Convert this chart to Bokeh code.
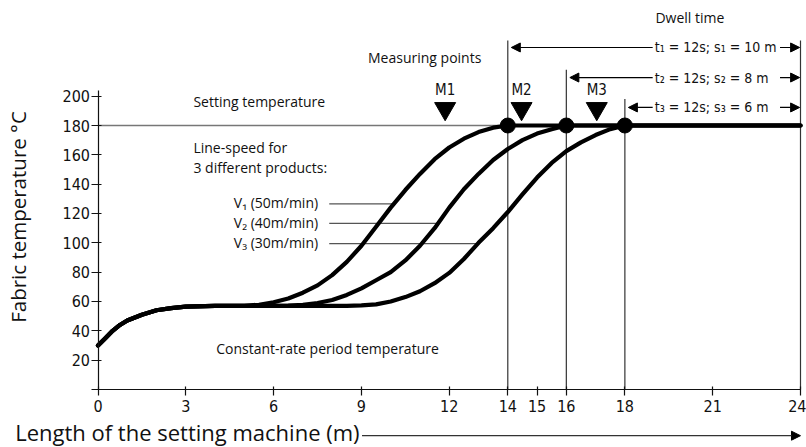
from bokeh.plotting import figure
from bokeh.models import FixedTicker, Arrow, NormalHead, Range1d
from bokeh.embed import file_html
from bokeh.resources import INLINE
from bokeh.core.properties import value

# ---------------- data ----------------
x_ticks = [0, 3, 6, 9, 12, 14, 15, 16, 18, 21, 24]
y_ticks = [0, 20, 40, 60, 80, 100, 120, 140, 160, 180, 200]

# warm-up to the constant-rate period temperature (common to all products)
warm_x = [0, 0.25, 0.5, 0.75, 1.0, 1.5, 2.0, 2.5, 3.0, 4.0, 5.0]
warm_y = [30, 35, 40, 44, 47, 51, 54, 55.5, 56.5, 57, 57]

# heating curves to setting temperature
v1_x = [5.5, 6.0, 6.5, 7.0, 7.5, 8.0, 8.5, 9.0, 9.5, 10.0, 10.5, 11.0, 11.5, 12.0, 12.5, 13.0, 13.5, 14.0, 24.0]
v1_y = [57.8, 59.5, 62, 66, 71, 78, 87, 98, 111, 124, 136, 147, 157, 165, 171, 175.5, 178.5, 180, 180]

v2_x = [6.0, 6.5, 7.0, 7.5, 8.0, 8.5, 9.0, 9.5, 10.0, 10.5, 11.0, 11.5, 12.0, 12.5, 13.0, 13.5, 14.0, 14.5, 15.0, 15.5, 16.0, 24.0]
v2_y = [57, 57.2, 57.8, 59, 61, 64.5, 69, 74.5, 80, 88, 98, 110, 124, 136.5, 147, 156.5, 164, 170, 174.5, 177.5, 180, 180]

v3_x = [8.0, 8.5, 9.0, 9.5, 10.0, 10.5, 11.0, 11.5, 12.0, 12.5, 13.0, 13.5, 14.0, 14.5, 15.0, 15.5, 16.0, 16.5, 17.0, 17.5, 18.0, 24.0]
v3_y = [57, 57, 57.3, 58, 60, 63, 67, 72.5, 79.5, 89, 100, 110, 121, 133, 144.5, 154.5, 162.5, 168.5, 173.5, 177.5, 180, 180]

setting_temp = 180
dwell_start = [14, 16, 18]          # m, where each product reaches setting temp
machine_end = 24
measure_x = [11.86, 14.47, 17.04]
measure_names = ["M1", "M2", "M3"]
speed_labels = ["V\u2081 (50m/min)", "V\u2082 (40m/min)", "V\u2083 (30m/min)"]
dwell_labels = ["t\u2081 = 12s;  s\u2081 = 10 m",
                "t\u2082 = 12s;  s\u2082 =   8 m",
                "t\u2083 = 12s;  s\u2083 =   6 m"]

# ---------------- figure ----------------
W, H = 806, 447
p = figure(width=W, height=H, output_backend="svg", toolbar_location=None,
           x_range=Range1d(-3.331, 24.205), y_range=Range1d(-39.55, 265.23),
           min_border=0, outline_line_color=None)
p.grid.visible = False
p.background_fill_color = "white"

TICKFONT = "'DejaVu Sans Condensed', 'Liberation Sans Narrow', sans-serif"
ANN = value("Open Sans")
NARROW = value(TICKFONT)

for ax in (p.xaxis[0], p.yaxis[0]):
    ax.fixed_location = 0
    ax.axis_line_color = "#111111"
    ax.axis_line_width = 1.2
    ax.major_tick_line_color = "#111111"
    ax.major_tick_line_width = 1.2
    ax.minor_tick_line_color = None
    ax.major_label_text_font = TICKFONT
    ax.major_label_text_font_size = "16px"
    ax.major_label_text_color = "#111111"

p.xaxis.ticker = FixedTicker(ticks=x_ticks)
p.xaxis.bounds = (0, 24)
p.xaxis.major_tick_out = 6
p.xaxis.major_tick_in = 3
p.xaxis.major_label_standoff = 5

p.yaxis.ticker = FixedTicker(ticks=y_ticks)
p.yaxis.bounds = (0, 204)
p.yaxis.major_tick_out = 7
p.yaxis.major_tick_in = 3
p.yaxis.major_label_standoff = 1
p.yaxis.major_label_overrides = {0: ""}

# setting temperature reference line
p.line([0, dwell_start[0]], [setting_temp, setting_temp], line_color="#777777", line_width=1.5)

# vertical lines
vtops = [238, 218, 198]
for xv, top in zip(dwell_start, vtops):
    p.line([xv, xv], [0, top], line_color="#333333", line_width=1.2)
p.line([machine_end, machine_end], [0, 238], line_color="#333333", line_width=1.2)

# speed label connectors
conn_y = [126.6, 113.2, 99.5]
conn_end = [10.08, 11.6, 12.97]
for cy, ce in zip(conn_y, conn_end):
    p.line([7.9, ce], [cy, cy], line_color="#555555", line_width=1.2)

# curves
for cx, cy in ((v1_x, v1_y), (v2_x, v2_y), (v3_x, v3_y)):
    p.line(warm_x + cx, warm_y + cy, line_color="black", line_width=4.2,
           line_join="round", line_cap="round")

# dots at reaching setting temperature
p.scatter(dwell_start, [setting_temp] * 3, size=15, marker="circle", color="black")

# measuring points
p.scatter(measure_x, [191.5] * 3, marker="inverted_triangle", size=21, color="black")
p.text(measure_x, [204] * 3, text=measure_names, text_font=NARROW, text_font_size="15px",
       text_align="center", text_baseline="middle", text_color="#111111")

# dwell arrows
arr_y = [233.2, 212.7, 192.3]
arr_left_tip = [14.12, 16.12, 18.12]
for ay, tip in zip(arr_y, arr_left_tip):
    p.add_layout(Arrow(end=NormalHead(size=9, fill_color="black", line_color="black"),
                       x_start=18.95, y_start=ay, x_end=tip, y_end=ay,
                       line_color="black", line_width=1.2))
    p.add_layout(Arrow(end=NormalHead(size=9, fill_color="black", line_color="black"),
                       x_start=23.3, y_start=ay, x_end=23.97, y_end=ay,
                       line_color="black", line_width=1.2))
p.text([19.02] * 3, arr_y, text=dwell_labels, text_font=NARROW, text_font_size="14px",
       text_align="left", text_baseline="middle", text_color="#111111")

# annotation texts
p.text([20.22], [253.6], text=["Dwell time"], text_font=ANN, text_font_size="14px",
       text_align="center", text_baseline="middle", text_color="#111111")
p.text([11.16], [226.4], text=["Measuring points"], text_font=ANN, text_font_size="14px",
       text_align="center", text_baseline="middle", text_color="#111111")
p.text([3.26], [196.4], text=["Setting temperature"], text_font=ANN, text_font_size="14px",
       text_align="left", text_baseline="middle", text_color="#111111")
p.text([3.26, 3.26], [164.9, 151.3], text=["Line-speed for", "3 different products:"],
       text_font=ANN, text_font_size="14px", text_align="left", text_baseline="middle",
       text_color="#111111")
p.text([7.52] * 3, [c + 0.8 for c in conn_y], text=speed_labels, text_font=ANN,
       text_font_size="14px", text_align="right", text_baseline="middle", text_color="#111111")
p.text([4.04], [28], text=["Constant-rate period temperature"], text_font=ANN,
       text_font_size="14px", text_align="left", text_baseline="middle", text_color="#111111")

# axis titles
p.text([-2.73], [117.6], text=["Fabric temperature \u00b0C"], angle=1.5708, text_font=ANN,
       text_font_size="20.5px", text_align="center", text_baseline="middle", text_color="#111111")
p.text([-2.83], [-29.3], text=["Length of the setting machine (m)"], text_font=ANN,
       text_font_size="22px", text_align="left", text_baseline="alphabetic", text_color="#111111")
p.add_layout(Arrow(end=NormalHead(size=9, fill_color="black", line_color="black"),
                   x_start=9.02, y_start=-31.5, x_end=24.0, y_end=-31.5,
                   line_color="#333333", line_width=1.2))

open("out.html", "w").write(file_html(p, INLINE))
